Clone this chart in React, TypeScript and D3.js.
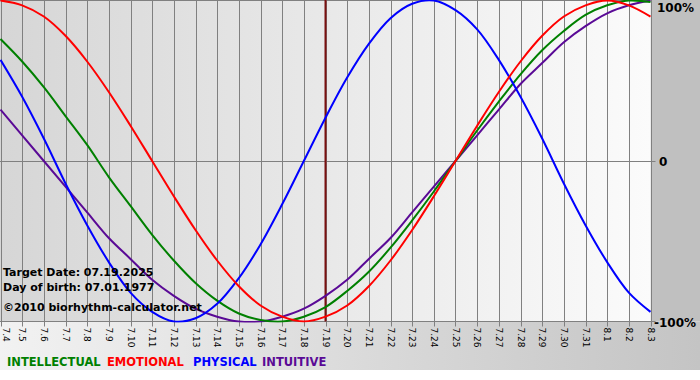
import React from "react";
import * as d3 from "d3";

const dayLabels = ["7.4","7.5","7.6","7.7","7.8","7.9","7.10","7.11","7.12","7.13","7.14","7.15","7.16","7.17","7.18","7.19","7.20","7.21","7.22","7.23","7.24","7.25","7.26","7.27","7.28","7.29","7.30","7.31","8.1","8.2","8.3"];
const physical = [0.63,0.40,0.14,-0.14,-0.40,-0.63,-0.82,-0.94,-1.00,-0.98,-0.89,-0.73,-0.52,-0.27,0,0.27,0.52,0.73,0.89,0.98,1.00,0.94,0.82,0.63,0.40,0.14,-0.14,-0.40,-0.63,-0.82,-0.94];
const emotional = [1,0.97,0.90,0.78,0.62,0.43,0.22,0,-0.22,-0.43,-0.62,-0.78,-0.90,-0.97,-1,-0.97,-0.90,-0.78,-0.62,-0.43,-0.22,0,0.22,0.43,0.62,0.78,0.90,0.97,1,0.97,0.90];
const intellectual = [0.76,0.62,0.46,0.28,0.10,-0.10,-0.28,-0.46,-0.62,-0.76,-0.87,-0.95,-0.99,-1.00,-0.97,-0.91,-0.81,-0.69,-0.54,-0.37,-0.19,0,0.19,0.37,0.54,0.69,0.81,0.91,0.97,1.00,0.99];
const intuitive = [0.32,0.16,0,-0.16,-0.32,-0.48,-0.61,-0.74,-0.84,-0.92,-0.97,-1.00,-1.00,-0.97,-0.92,-0.84,-0.74,-0.61,-0.48,-0.32,-0.16,0,0.16,0.32,0.48,0.61,0.74,0.84,0.92,0.97,1.00];
const targetIndex = 15;
const yLabels = [{ v: 1, t: "100%" }, { v: 0, t: "0" }, { v: -1, t: "-100%" }];
const legend = [
  { name: "INTELLECTUAL", color: "#008000", x: 7 },
  { name: "EMOTIONAL", color: "#ff0000", x: 107 },
  { name: "PHYSICAL", color: "#0000ff", x: 193 },
  { name: "INTUITIVE", color: "#5a0a96", x: 262 },
];
const infoLines = ["Target Date: 07.19.2025", "Day of birth: 07.01.1977"];
const copyright = "\u00a92010 biorhythm-calculator.net";

export default function App() {
  const W = 700, H = 380;
  const plotW = 650.5, plotTop = 0.5, plotBottom = 321.5;
  const x = d3.scaleLinear().domain([0, dayLabels.length - 1]).range([0.5, plotW]);
  const y = d3.scaleLinear().domain([-1, 1]).range([plotBottom, plotTop]);
  const line = d3.line<number>().x((_, i) => x(i)).y((d) => y(d)).curve(d3.curveCatmullRom.alpha(0.5));
  const series = [
    { data: intuitive, color: "#5a0a96" },
    { data: intellectual, color: "#008000" },
    { data: physical, color: "#0000ff" },
    { data: emotional, color: "#ff0000" },
  ];
  const font = "'DejaVu Sans', Verdana, sans-serif";
  return (
    <svg width={W} height={H} style={{ position: "absolute", left: 0, top: 0, display: "block" }}>
      <defs>
        <linearGradient id="plotBg" x1="0" x2="1" y1="0" y2="0">
          <stop offset="0" stopColor="#d6d6d6" />
          <stop offset="1" stopColor="#fbfbfb" />
        </linearGradient>
        <linearGradient id="bottomBg" x1="0" x2="1" y1="0" y2="0">
          <stop offset="0" stopColor="#f2f2f2" />
          <stop offset="1" stopColor="#c4c4c4" />
        </linearGradient>
        <clipPath id="clip"><rect x={0} y={0} width={plotW + 1} height={plotBottom + 1} /></clipPath>
      </defs>
      <rect x={0} y={0} width={W} height={H} fill="#ffffff" />
      <rect x={0} y={plotBottom} width={W} height={370 - plotBottom} fill="url(#bottomBg)" />
      <rect x={plotW} y={0} width={W - plotW} height={plotBottom} fill="#c0c0c0" />
      <rect x={0} y={0} width={plotW} height={plotBottom} fill="url(#plotBg)" />
      {dayLabels.map((d, i) => (
        <line key={d} x1={Math.round(x(i)) + 0.5} x2={Math.round(x(i)) + 0.5} y1={0} y2={plotBottom + 5} stroke="#808080" strokeWidth={1} />
      ))}
      <line x1={0} x2={plotW + 5} y1={Math.round(y(0)) + 0.5} y2={Math.round(y(0)) + 0.5} stroke="#808080" />
      <line x1={0} x2={plotW + 5} y1={plotBottom} y2={plotBottom} stroke="#808080" />
      <line x1={0} x2={plotW} y1={plotTop} y2={plotTop} stroke="#808080" />
      <line x1={x(targetIndex)} x2={x(targetIndex)} y1={0} y2={plotBottom} stroke="#7a1010" strokeWidth={2} />
      <g clipPath="url(#clip)">
        {series.map((s, k) => (
          <path key={k} d={line(s.data) || ""} fill="none" stroke={s.color} strokeWidth={2} />
        ))}
      </g>
      {dayLabels.map((d, i) => (
        <text key={d} transform={`translate(${Math.max(x(i), 6)},${plotBottom + 6}) rotate(90)`} fontFamily={font} fontSize={9} fill="#000" dominantBaseline="central">{d}</text>
      ))}
      {yLabels.map((l) => (
        <text key={l.t} x={l.v === 0 ? 659 : l.v > 0 ? 657 : 654} y={y(l.v) + (l.v > 0 ? 7 : 1)} fontFamily={font} fontSize={12} fontWeight="bold" fill="#000" dominantBaseline="central">{l.t}</text>
      ))}
      {infoLines.map((t, i) => (
        <text key={t} x={3} y={276 + i * 15} fontFamily={font} fontSize={11} fontWeight="bold" fill="#000">{t}</text>
      ))}
      <text x={3} y={311} fontFamily={font} fontSize={11} fontWeight="bold" fill="#000">{copyright}</text>
      {legend.map((l) => (
        <text key={l.name} x={l.x} y={366} fontFamily={font} fontSize={11.5} fill={l.color} fontWeight="bold">{l.name}</text>
      ))}
    </svg>
  );
}
